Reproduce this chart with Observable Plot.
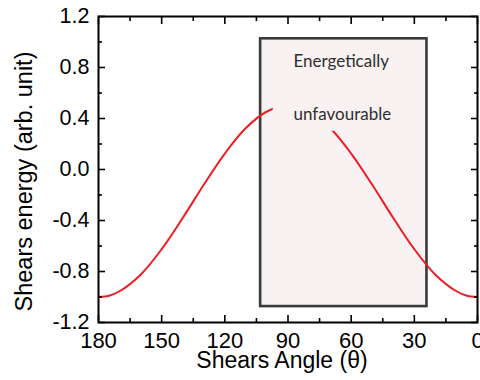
<!DOCTYPE html>
<html><head><meta charset="utf-8">
<script src="https://cdn.jsdelivr.net/npm/d3@7"></script>
<script src="https://cdn.jsdelivr.net/npm/@observablehq/plot@0.6"></script>
<style>body{margin:0;background:#fff} svg{display:block}</style>
</head><body><div id="chart"></div>
<script>
// Data
const angles = [0,5,10,20,30,40,50,60,70,80,90,100,110,120,130,140,150,160,170,175,180];
const energy = [-1.0,-0.99,-0.955,-0.825,-0.625,-0.38,-0.12,0.125,0.325,0.455,0.5,0.455,0.325,0.125,-0.12,-0.38,-0.625,-0.825,-0.955,-0.99,-1.0];

const xMajorTicks = [180,150,120,90,60,30,0];
const xMinorTicks = [165,135,105,75,45,15];
const yMajorTicks = [-1.2,-0.8,-0.4,0,0.4,0.8,1.2];
const yTickLabels = ["-1.2","-0.8","-0.4","0.0","0.4","0.8","1.2"];
const yMinorTicks = [-1.0,-0.6,-0.2,0.2,0.6,1.0];

// annotation box ("energetically unfavourable" region)
const boxAngles = [103, 24];
const boxEnergy = [-1.075, 1.025];
const noteLines = ["Energetically", "unfavourable"];
const noteAngles = [87.4, 87.4];
const noteEnergy = [0.85, 0.434];
// background of the text frame inside the box (hides the curve)
const maskAngles = [97, 36];
const maskEnergy = [0.30, 0.60];

const xTitle = "Shears Angle (θ)";
const yTitle = "Shears energy (arb. unit)";

const curve = angles.map((a, i) => ({angle: a, energy: energy[i]}));
const notes = noteLines.map((t, i) => ({text: t, angle: noteAngles[i], energy: noteEnergy[i]}));

const FONT = "Liberation Sans, Arial, Helvetica, sans-serif";
const boxFill = "#f9f2f2";
const blank = () => "";

const chart = Plot.plot({
  width: 480,
  height: 380,
  marginLeft: 98,
  marginRight: 3,
  marginTop: 16,
  marginBottom: 58,
  style: {fontFamily: FONT, background: "#fff", color: "#000"},
  x: {domain: [180, 0], label: null},
  y: {domain: [-1.2, 1.2], label: null},
  marks: [
    Plot.rect([0], {x1: () => boxAngles[0], x2: () => boxAngles[1], y1: () => boxEnergy[0], y2: () => boxEnergy[1],
      fill: boxFill, stroke: "#3a3a3a", strokeWidth: 2.6}),
    Plot.line(curve, {x: "angle", y: "energy", stroke: "#ee1c24", strokeWidth: 2, curve: "catmull-rom"}),
    Plot.rect([0], {x1: () => maskAngles[0], x2: () => maskAngles[1], y1: () => maskEnergy[0], y2: () => maskEnergy[1],
      fill: boxFill}),
    Plot.text(notes, {x: "angle", y: "energy", text: "text", textAnchor: "start", lineAnchor: "middle",
      fontFamily: "Lato, Open Sans, sans-serif", fontSize: 17, fill: "#2e2e2e"}),
    Plot.frame({stroke: "#000", strokeWidth: 2}),
    // inward ticks
    Plot.axisX(xMajorTicks, {anchor: "bottom", tickSize: -7, tickFormat: blank, strokeWidth: 1.6, label: null}),
    Plot.axisX(xMinorTicks, {anchor: "bottom", tickSize: -4, tickFormat: blank, strokeWidth: 1.6, label: null}),
    Plot.axisX(xMajorTicks, {anchor: "top", tickSize: -7, tickFormat: blank, strokeWidth: 1.6, label: null}),
    Plot.axisX(xMinorTicks, {anchor: "top", tickSize: -4, tickFormat: blank, strokeWidth: 1.6, label: null}),
    Plot.axisY(yMajorTicks, {anchor: "left", tickSize: -7, tickFormat: blank, strokeWidth: 1.6, label: null}),
    Plot.axisY(yMinorTicks, {anchor: "left", tickSize: -4, tickFormat: blank, strokeWidth: 1.6, label: null}),
    Plot.axisY(yMajorTicks, {anchor: "right", tickSize: -7, tickFormat: blank, strokeWidth: 1.6, label: null}),
    Plot.axisY(yMinorTicks, {anchor: "right", tickSize: -4, tickFormat: blank, strokeWidth: 1.6, label: null}),
    // tick labels
    Plot.axisX(xMajorTicks, {anchor: "bottom", tickSize: 0, tickPadding: 9.5, fontSize: 22, fill: "#000", label: null}),
    Plot.axisY(yMajorTicks, {anchor: "left", tickSize: 0, tickPadding: 9, fontSize: 21.5, fill: "#000", label: null,
      tickFormat: d => yTickLabels[yMajorTicks.indexOf(d)]}),
    // axis titles
    Plot.text([xTitle], {frameAnchor: "bottom", dy: 38, dx: -6, text: d => d, fontSize: 23, fill: "#000",
      textAnchor: "middle", lineAnchor: "middle"}),
    Plot.text([yTitle], {frameAnchor: "left", dx: -74, dy: 12, rotate: -90, text: d => d, fontSize: 23.5, fill: "#000",
      textAnchor: "middle", lineAnchor: "middle"})
  ]
});
document.getElementById("chart").appendChild(chart);
</script>
</body></html>
